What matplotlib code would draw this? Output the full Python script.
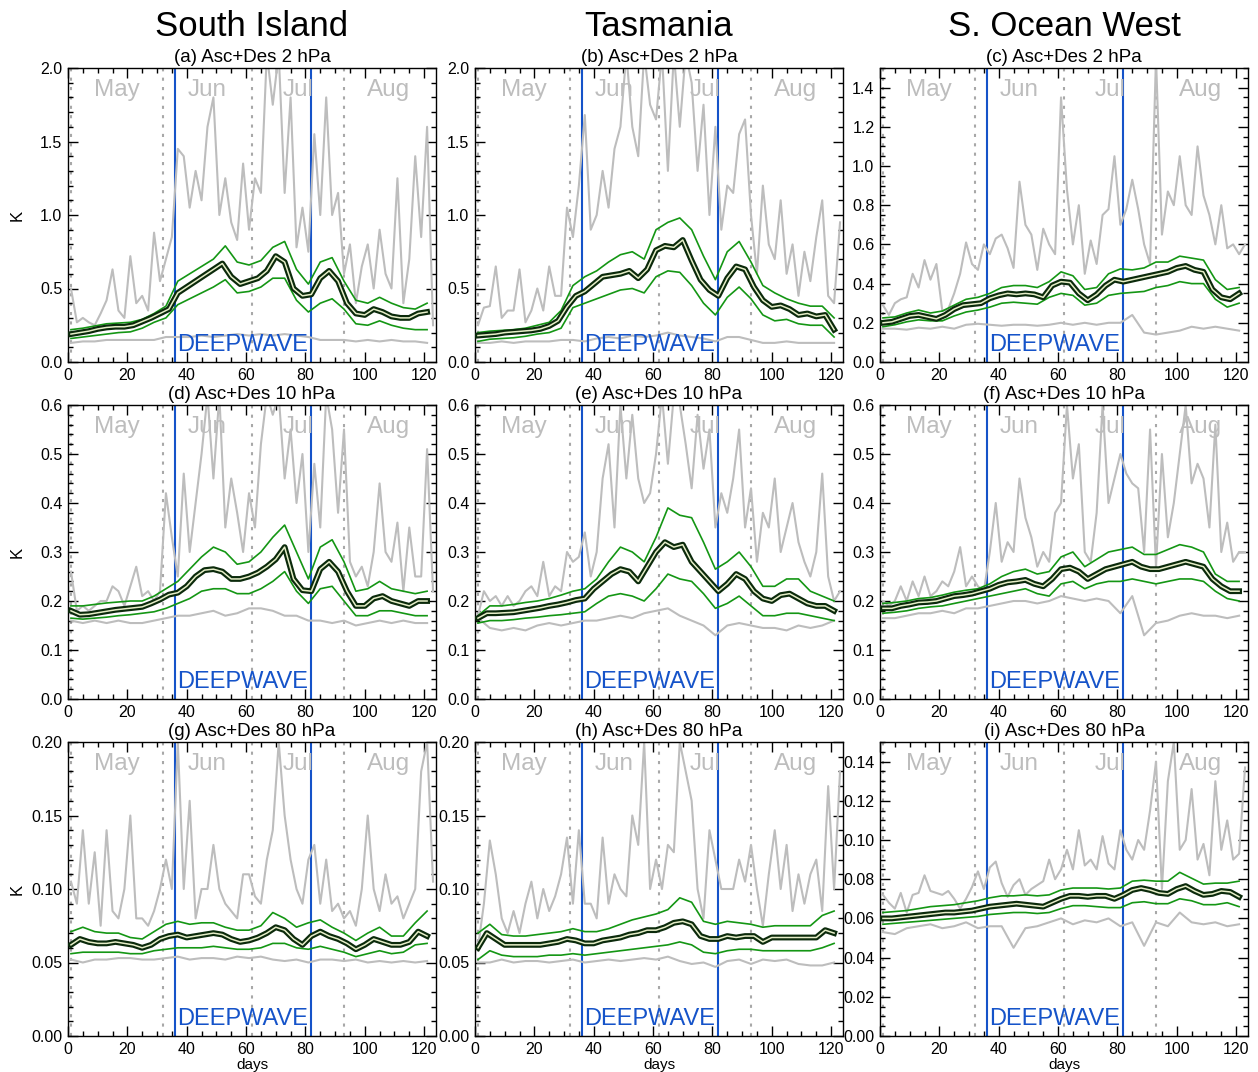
import numpy as np
import matplotlib
matplotlib.use("Agg")
import matplotlib.pyplot as plt
from matplotlib.ticker import MultipleLocator, FormatStrFormatter

plt.rcParams['font.family'] = ['Liberation Sans', 'DejaVu Sans']

# sampling days for each kind of series
days_max = np.arange(1, 124, 2)    # noisy daily maximum (grey)
days_mean = np.arange(1, 122, 3)   # mean (black)
days_band = np.arange(1, 122, 4)   # green spread lines and grey minimum

columns = ["South Island", "Tasmania", "S. Ocean West"]
titles = ["(a) Asc+Des 2 hPa", "(b) Asc+Des 2 hPa", "(c) Asc+Des 2 hPa",
          "(d) Asc+Des 10 hPa", "(e) Asc+Des 10 hPa", "(f) Asc+Des 10 hPa",
          "(g) Asc+Des 80 hPa", "(h) Asc+Des 80 hPa", "(i) Asc+Des 80 hPa"]
months = ["May", "Jun", "Jul", "Aug"]
month_mid = [16.5, 47, 77.5, 108]
month_start = [1, 32, 62, 93]
campaign = [36, 82]

# ---- (a) South Island 2 hPa
a_max = [0.50, 0.27, 0.30, 0.27, 0.25, 0.33, 0.42, 0.63, 0.35, 0.30,
         0.72, 0.40, 0.45, 0.35, 0.88, 0.55, 0.70, 0.85, 1.45, 1.40,
         1.05, 1.30, 1.10, 1.60, 1.80, 1.00, 1.25, 0.95, 0.83, 1.35,
         0.90, 1.25, 1.15, 2.10, 1.75, 2.10, 1.15, 1.80, 0.78, 1.05,
         0.75, 1.55, 1.00, 1.80, 1.00, 1.15, 0.60, 0.80, 0.40, 0.65,
         0.80, 0.50, 0.90, 0.60, 0.50, 1.25, 0.40, 0.70, 1.40, 0.85,
         1.60, 0.25]
a_mean = [0.19, 0.20, 0.21, 0.225, 0.235, 0.24, 0.24, 0.25, 0.275, 0.30,
          0.33, 0.36, 0.47, 0.51, 0.55, 0.59, 0.63, 0.67, 0.58, 0.53,
          0.55, 0.57, 0.62, 0.72, 0.68, 0.50, 0.45, 0.46, 0.57, 0.62,
          0.55, 0.40, 0.33, 0.32, 0.36, 0.34, 0.31, 0.30, 0.30, 0.33, 0.34]
a_hi = [0.22, 0.23, 0.245, 0.26, 0.265, 0.27, 0.29, 0.33, 0.38, 0.55, 0.60,
        0.65, 0.70, 0.79, 0.68, 0.66, 0.69, 0.78, 0.82, 0.63, 0.53, 0.68,
        0.71, 0.55, 0.42, 0.40, 0.44, 0.40, 0.37, 0.36, 0.40]
a_lo = [0.16, 0.17, 0.18, 0.19, 0.20, 0.205, 0.23, 0.27, 0.30, 0.39, 0.43,
        0.47, 0.51, 0.56, 0.47, 0.48, 0.51, 0.57, 0.57, 0.42, 0.34, 0.40,
        0.43, 0.36, 0.26, 0.25, 0.28, 0.25, 0.23, 0.22, 0.22]
a_min = [0.13, 0.14, 0.14, 0.15, 0.15, 0.15, 0.15, 0.15, 0.17, 0.17, 0.17,
         0.18, 0.17, 0.18, 0.19, 0.18, 0.19, 0.18, 0.19, 0.18, 0.17, 0.15,
         0.15, 0.15, 0.14, 0.15, 0.14, 0.15, 0.14, 0.14, 0.13]

# ---- (b) Tasmania 2 hPa
b_max = [0.25, 0.37, 0.38, 0.65, 0.30, 0.35, 0.35, 0.63, 0.27, 0.35,
         0.50, 0.35, 0.65, 0.45, 0.45, 1.05, 0.85, 1.20, 1.68, 0.90,
         1.00, 1.30, 1.05, 1.45, 1.60, 2.10, 1.60, 1.40, 2.10, 1.75,
         1.65, 2.10, 1.30, 2.10, 1.60, 2.10, 1.90, 1.30, 1.75, 1.00,
         1.60, 0.90, 1.20, 1.15, 1.55, 1.65, 1.00, 0.60, 1.20, 0.80,
         0.70, 1.10, 0.60, 0.80, 0.45, 0.75, 0.55, 0.85, 1.10, 0.45,
         0.40, 0.95]
b_mean = [0.18, 0.185, 0.19, 0.20, 0.205, 0.21, 0.215, 0.225, 0.245, 0.28,
          0.375, 0.45, 0.48, 0.53, 0.58, 0.59, 0.60, 0.62, 0.57, 0.63,
          0.76, 0.79, 0.78, 0.83, 0.69, 0.56, 0.49, 0.45, 0.57, 0.65,
          0.63, 0.51, 0.42, 0.375, 0.385, 0.36, 0.32, 0.33, 0.31, 0.32, 0.22]
b_hi = [0.20, 0.21, 0.215, 0.22, 0.23, 0.25, 0.27, 0.35, 0.52, 0.58, 0.62,
        0.68, 0.73, 0.75, 0.70, 0.90, 0.95, 0.98, 0.90, 0.72, 0.56, 0.75,
        0.82, 0.68, 0.52, 0.47, 0.43, 0.40, 0.38, 0.38, 0.30]
b_lo = [0.14, 0.155, 0.16, 0.165, 0.175, 0.19, 0.20, 0.23, 0.37, 0.40, 0.43,
        0.46, 0.49, 0.50, 0.47, 0.58, 0.62, 0.61, 0.52, 0.40, 0.32, 0.44,
        0.51, 0.43, 0.32, 0.28, 0.29, 0.26, 0.25, 0.25, 0.17]
b_min = [0.13, 0.13, 0.14, 0.13, 0.14, 0.14, 0.14, 0.15, 0.15, 0.14, 0.16,
         0.17, 0.16, 0.18, 0.17, 0.18, 0.20, 0.18, 0.17, 0.16, 0.14, 0.17,
         0.17, 0.15, 0.13, 0.13, 0.14, 0.13, 0.13, 0.13, 0.13]

# ---- (c) S. Ocean West 2 hPa
c_max = [0.29, 0.24, 0.30, 0.32, 0.33, 0.45, 0.38, 0.52, 0.42, 0.50,
         0.26, 0.27, 0.35, 0.45, 0.61, 0.50, 0.47, 0.60, 0.55, 0.63,
         0.65, 0.58, 0.48, 0.92, 0.70, 0.65, 0.47, 0.68, 0.60, 0.55,
         1.35, 0.88, 0.60, 0.80, 0.45, 0.62, 0.50, 0.75, 0.78, 1.05,
         0.70, 0.78, 0.93, 0.78, 0.60, 0.50, 1.55, 0.65, 0.87, 0.80,
         1.05, 0.80, 0.75, 1.10, 0.85, 0.75, 0.60, 0.80, 0.58, 0.60,
         0.55, 0.60]
c_mean = [0.20, 0.205, 0.22, 0.235, 0.24, 0.23, 0.22, 0.24, 0.27, 0.29,
          0.295, 0.30, 0.325, 0.34, 0.35, 0.345, 0.35, 0.345, 0.33, 0.39,
          0.41, 0.405, 0.35, 0.315, 0.345, 0.39, 0.42, 0.41, 0.42, 0.43,
          0.44, 0.45, 0.46, 0.48, 0.49, 0.47, 0.46, 0.37, 0.33, 0.32, 0.35]
c_hi = [0.225, 0.23, 0.25, 0.265, 0.25, 0.26, 0.29, 0.32, 0.33, 0.35, 0.38,
        0.39, 0.39, 0.38, 0.41, 0.46, 0.44, 0.37, 0.38, 0.45, 0.475, 0.47,
        0.48, 0.51, 0.51, 0.54, 0.53, 0.52, 0.42, 0.37, 0.38]
c_lo = [0.18, 0.19, 0.205, 0.215, 0.21, 0.21, 0.235, 0.255, 0.265, 0.28,
        0.30, 0.305, 0.30, 0.295, 0.33, 0.35, 0.34, 0.29, 0.30, 0.34, 0.35,
        0.355, 0.36, 0.38, 0.39, 0.41, 0.40, 0.40, 0.32, 0.28, 0.30]
c_min = [0.17, 0.17, 0.165, 0.175, 0.17, 0.18, 0.17, 0.19, 0.195, 0.19,
         0.185, 0.19, 0.19, 0.185, 0.19, 0.20, 0.19, 0.20, 0.19, 0.20, 0.20,
         0.24, 0.15, 0.14, 0.15, 0.16, 0.18, 0.17, 0.18, 0.17, 0.16]

# ---- (d) South Island 10 hPa
d_max = [0.26, 0.18, 0.19, 0.18, 0.19, 0.20, 0.20, 0.23, 0.22, 0.19,
         0.23, 0.27, 0.21, 0.22, 0.20, 0.22, 0.42, 0.33, 0.25, 0.46,
         0.30, 0.40, 0.50, 0.62, 0.45, 0.62, 0.35, 0.45, 0.38, 0.30,
         0.42, 0.35, 0.52, 0.62, 0.58, 0.62, 0.45, 0.55, 0.40, 0.50,
         0.30, 0.48, 0.35, 0.62, 0.55, 0.38, 0.55, 0.28, 0.25, 0.27,
         0.23, 0.30, 0.44, 0.30, 0.28, 0.36, 0.22, 0.35, 0.25, 0.25,
         0.51, 0.22]
d_mean = [0.18, 0.172, 0.173, 0.176, 0.179, 0.182, 0.184, 0.186, 0.188,
          0.195, 0.203, 0.213, 0.217, 0.23, 0.25, 0.263, 0.265, 0.26, 0.245,
          0.245, 0.25, 0.258, 0.27, 0.285, 0.31, 0.245, 0.222, 0.22, 0.265,
          0.28, 0.26, 0.22, 0.19, 0.19, 0.205, 0.21, 0.20, 0.195, 0.19,
          0.20, 0.20]
d_hi = [0.19, 0.19, 0.193, 0.196, 0.198, 0.20, 0.20, 0.21, 0.225, 0.24,
        0.265, 0.29, 0.31, 0.30, 0.275, 0.28, 0.30, 0.33, 0.355, 0.30, 0.245,
        0.31, 0.325, 0.28, 0.22, 0.225, 0.24, 0.225, 0.22, 0.215, 0.22]
d_lo = [0.165, 0.163, 0.165, 0.167, 0.17, 0.172, 0.175, 0.178, 0.185, 0.195,
        0.205, 0.22, 0.225, 0.225, 0.215, 0.215, 0.225, 0.24, 0.26, 0.22,
        0.195, 0.225, 0.23, 0.20, 0.17, 0.17, 0.18, 0.18, 0.175, 0.17, 0.17]
d_min = [0.16, 0.155, 0.16, 0.155, 0.16, 0.155, 0.155, 0.16, 0.165, 0.17,
         0.17, 0.175, 0.18, 0.17, 0.175, 0.185, 0.185, 0.18, 0.17, 0.17,
         0.16, 0.16, 0.155, 0.16, 0.15, 0.155, 0.16, 0.155, 0.16, 0.155, 0.155]

# ---- (e) Tasmania 10 hPa
e_max = [0.17, 0.22, 0.20, 0.21, 0.19, 0.21, 0.19, 0.20, 0.22, 0.23,
         0.21, 0.28, 0.21, 0.23, 0.22, 0.30, 0.28, 0.29, 0.34, 0.25,
         0.30, 0.45, 0.52, 0.35, 0.60, 0.45, 0.58, 0.45, 0.40, 0.42,
         0.50, 0.62, 0.48, 0.62, 0.60, 0.52, 0.43, 0.58, 0.47, 0.55,
         0.35, 0.42, 0.38, 0.45, 0.55, 0.35, 0.43, 0.28, 0.38, 0.35,
         0.45, 0.30, 0.35, 0.40, 0.32, 0.28, 0.25, 0.30, 0.46, 0.25,
         0.20, 0.22]
e_mean = [0.165, 0.175, 0.175, 0.176, 0.177, 0.18, 0.183, 0.186, 0.19,
          0.193, 0.197, 0.202, 0.205, 0.225, 0.24, 0.255, 0.265, 0.26, 0.24,
          0.27, 0.30, 0.32, 0.31, 0.315, 0.28, 0.26, 0.24, 0.22, 0.235,
          0.255, 0.245, 0.22, 0.205, 0.20, 0.212, 0.215, 0.205, 0.195, 0.19,
          0.19, 0.18]
e_hi = [0.17, 0.19, 0.19, 0.193, 0.197, 0.20, 0.205, 0.212, 0.22, 0.225,
        0.245, 0.28, 0.31, 0.30, 0.28, 0.33, 0.39, 0.375, 0.37, 0.32, 0.265,
        0.28, 0.30, 0.27, 0.23, 0.23, 0.245, 0.245, 0.22, 0.21, 0.20]
e_lo = [0.155, 0.16, 0.16, 0.162, 0.165, 0.167, 0.17, 0.172, 0.175, 0.178,
        0.195, 0.21, 0.215, 0.21, 0.20, 0.225, 0.255, 0.245, 0.24, 0.215,
        0.185, 0.195, 0.21, 0.19, 0.17, 0.17, 0.175, 0.175, 0.17, 0.165, 0.16]
e_min = [0.165, 0.145, 0.14, 0.145, 0.14, 0.15, 0.155, 0.15, 0.155, 0.16,
         0.16, 0.165, 0.17, 0.165, 0.175, 0.18, 0.185, 0.17, 0.16, 0.15,
         0.13, 0.15, 0.155, 0.15, 0.145, 0.145, 0.14, 0.15, 0.145, 0.15, 0.16]

# ---- (f) S. Ocean West 10 hPa
f_max = [0.20, 0.19, 0.20, 0.23, 0.20, 0.24, 0.21, 0.25, 0.21, 0.22,
         0.24, 0.23, 0.26, 0.31, 0.23, 0.25, 0.23, 0.22, 0.30, 0.40,
         0.28, 0.32, 0.30, 0.45, 0.37, 0.33, 0.27, 0.30, 0.28, 0.38,
         0.40, 0.60, 0.45, 0.52, 0.30, 0.28, 0.38, 0.60, 0.40, 0.45,
         0.50, 0.46, 0.44, 0.43, 0.30, 0.55, 0.27, 0.50, 0.33, 0.40,
         0.50, 0.60, 0.44, 0.48, 0.45, 0.35, 0.56, 0.30, 0.36, 0.28,
         0.30, 0.30]
f_mean = [0.185, 0.185, 0.19, 0.193, 0.197, 0.198, 0.20, 0.205, 0.21, 0.212,
          0.215, 0.22, 0.225, 0.233, 0.238, 0.24, 0.243, 0.235, 0.23, 0.245,
          0.265, 0.268, 0.26, 0.245, 0.255, 0.265, 0.27, 0.275, 0.28, 0.27,
          0.265, 0.265, 0.27, 0.275, 0.28, 0.275, 0.27, 0.245, 0.23, 0.22,
          0.22]
f_hi = [0.195, 0.197, 0.20, 0.205, 0.207, 0.212, 0.218, 0.222, 0.225, 0.235,
        0.25, 0.26, 0.265, 0.255, 0.26, 0.29, 0.30, 0.27, 0.285, 0.30, 0.305,
        0.31, 0.295, 0.295, 0.305, 0.315, 0.31, 0.30, 0.255, 0.24, 0.24]
f_lo = [0.175, 0.177, 0.18, 0.185, 0.188, 0.19, 0.195, 0.20, 0.205, 0.21,
        0.215, 0.22, 0.225, 0.215, 0.21, 0.235, 0.24, 0.225, 0.235, 0.24,
        0.24, 0.245, 0.24, 0.235, 0.24, 0.245, 0.245, 0.24, 0.22, 0.205, 0.20]
f_min = [0.165, 0.165, 0.17, 0.175, 0.175, 0.18, 0.175, 0.185, 0.185, 0.19,
         0.195, 0.20, 0.20, 0.195, 0.20, 0.21, 0.205, 0.20, 0.205, 0.20,
         0.175, 0.21, 0.13, 0.155, 0.16, 0.17, 0.175, 0.17, 0.17, 0.165, 0.17]

# ---- (g) South Island 80 hPa
g_max = [0.105, 0.09, 0.14, 0.09, 0.125, 0.075, 0.14, 0.085, 0.08, 0.10,
         0.15, 0.08, 0.08, 0.075, 0.085, 0.10, 0.12, 0.10, 0.20, 0.10,
         0.16, 0.08, 0.10, 0.10, 0.13, 0.10, 0.09, 0.085, 0.08, 0.11,
         0.11, 0.095, 0.09, 0.12, 0.14, 0.20, 0.15, 0.12, 0.10, 0.09,
         0.12, 0.13, 0.09, 0.12, 0.085, 0.09, 0.08, 0.085, 0.075, 0.10,
         0.15, 0.10, 0.085, 0.11, 0.09, 0.095, 0.08, 0.09, 0.10, 0.18,
         0.20, 0.105]
g_mean = [0.062, 0.066, 0.064, 0.063, 0.063, 0.064, 0.063, 0.062, 0.060,
          0.062, 0.066, 0.068, 0.069, 0.067, 0.068, 0.069, 0.070, 0.069,
          0.066, 0.064, 0.065, 0.067, 0.070, 0.074, 0.072, 0.066, 0.062,
          0.068, 0.071, 0.068, 0.066, 0.063, 0.059, 0.062, 0.066, 0.064,
          0.062, 0.062, 0.064, 0.071, 0.068]
g_hi = [0.071, 0.074, 0.071, 0.070, 0.070, 0.067, 0.066, 0.071, 0.076, 0.078,
        0.076, 0.077, 0.077, 0.074, 0.072, 0.072, 0.075, 0.084, 0.080, 0.074,
        0.077, 0.079, 0.074, 0.070, 0.065, 0.070, 0.074, 0.068, 0.068, 0.077,
        0.085]
g_lo = [0.056, 0.057, 0.057, 0.057, 0.057, 0.056, 0.056, 0.058, 0.059, 0.060,
        0.060, 0.060, 0.061, 0.060, 0.059, 0.059, 0.060, 0.063, 0.063, 0.060,
        0.059, 0.061, 0.059, 0.057, 0.054, 0.056, 0.058, 0.056, 0.057, 0.062,
        0.063]
g_min = [0.052, 0.050, 0.052, 0.052, 0.053, 0.053, 0.052, 0.052, 0.053,
         0.054, 0.052, 0.053, 0.053, 0.052, 0.054, 0.053, 0.054, 0.052, 0.051,
         0.052, 0.050, 0.052, 0.052, 0.051, 0.052, 0.050, 0.051, 0.050, 0.051,
         0.050, 0.051]

# ---- (h) Tasmania 80 hPa
h_max = [0.06, 0.09, 0.133, 0.11, 0.08, 0.07, 0.085, 0.07, 0.09, 0.105,
         0.08, 0.10, 0.085, 0.095, 0.11, 0.135, 0.09, 0.14, 0.09, 0.09,
         0.08, 0.135, 0.09, 0.11, 0.10, 0.095, 0.15, 0.13, 0.20, 0.10,
         0.12, 0.10, 0.13, 0.125, 0.20, 0.18, 0.16, 0.10, 0.08, 0.14,
         0.12, 0.10, 0.10, 0.10, 0.12, 0.105, 0.13, 0.10, 0.075, 0.11,
         0.14, 0.10, 0.13, 0.085, 0.11, 0.09, 0.11, 0.12, 0.085, 0.17,
         0.10, 0.18]
h_mean = [0.060, 0.070, 0.066, 0.062, 0.062, 0.062, 0.062, 0.062, 0.063,
          0.064, 0.066, 0.065, 0.063, 0.063, 0.065, 0.066, 0.067, 0.069,
          0.070, 0.072, 0.072, 0.074, 0.077, 0.078, 0.076, 0.068, 0.066,
          0.066, 0.068, 0.067, 0.068, 0.068, 0.064, 0.067, 0.067, 0.067,
          0.067, 0.067, 0.067, 0.072, 0.070]
h_hi = [0.070, 0.076, 0.069, 0.068, 0.068, 0.069, 0.070, 0.071, 0.073, 0.071,
        0.071, 0.073, 0.076, 0.079, 0.081, 0.083, 0.086, 0.094, 0.091, 0.078,
        0.076, 0.078, 0.077, 0.076, 0.074, 0.075, 0.075, 0.075, 0.075, 0.082,
        0.085]
h_lo = [0.052, 0.058, 0.055, 0.054, 0.054, 0.054, 0.055, 0.055, 0.056, 0.055,
        0.056, 0.057, 0.058, 0.059, 0.060, 0.061, 0.062, 0.064, 0.062, 0.057,
        0.056, 0.058, 0.059, 0.059, 0.058, 0.058, 0.058, 0.058, 0.058, 0.060,
        0.063]
h_min = [0.050, 0.050, 0.052, 0.050, 0.051, 0.051, 0.050, 0.051, 0.052,
         0.050, 0.051, 0.052, 0.051, 0.052, 0.053, 0.052, 0.054, 0.051, 0.049,
         0.050, 0.047, 0.051, 0.052, 0.049, 0.052, 0.051, 0.052, 0.049, 0.048,
         0.048, 0.050]

# ---- (i) S. Ocean West 80 hPa
i_max = [0.072, 0.068, 0.065, 0.073, 0.063, 0.072, 0.073, 0.082, 0.074,
         0.073, 0.072, 0.074, 0.070, 0.065, 0.070, 0.076, 0.084, 0.075,
         0.086, 0.089, 0.078, 0.071, 0.077, 0.080, 0.072, 0.075, 0.077,
         0.079, 0.090, 0.080, 0.085, 0.095, 0.085, 0.105, 0.087, 0.090,
         0.085, 0.102, 0.088, 0.085, 0.105, 0.095, 0.090, 0.100, 0.095,
         0.115, 0.140, 0.075, 0.130, 0.150, 0.095, 0.100, 0.126, 0.090,
         0.098, 0.082, 0.130, 0.095, 0.110, 0.090, 0.093, 0.137]
i_mean = [0.060, 0.060, 0.0605, 0.061, 0.0615, 0.062, 0.0625, 0.063, 0.063,
          0.0635, 0.064, 0.065, 0.066, 0.0665, 0.067, 0.0675, 0.067, 0.0665,
          0.066, 0.068, 0.070, 0.0715, 0.0715, 0.071, 0.0715, 0.0715, 0.070,
          0.072, 0.0745, 0.0755, 0.0745, 0.073, 0.0725, 0.075, 0.0765, 0.074,
          0.072, 0.0725, 0.074, 0.0735, 0.071]
i_hi = [0.063, 0.0635, 0.064, 0.065, 0.066, 0.0665, 0.067, 0.068, 0.069,
        0.0705, 0.0715, 0.0715, 0.072, 0.0715, 0.072, 0.0745, 0.0755, 0.0755,
        0.0755, 0.075, 0.0755, 0.079, 0.0795, 0.079, 0.079, 0.0835, 0.0805,
        0.0775, 0.078, 0.078, 0.079]
i_lo = [0.057, 0.0575, 0.058, 0.0585, 0.059, 0.0595, 0.060, 0.0605, 0.061,
        0.062, 0.0625, 0.063, 0.063, 0.0625, 0.063, 0.065, 0.0665, 0.0665,
        0.066, 0.0655, 0.0655, 0.068, 0.0685, 0.0675, 0.0675, 0.070, 0.069,
        0.067, 0.067, 0.068, 0.066]
i_min = [0.053, 0.052, 0.055, 0.056, 0.057, 0.055, 0.056, 0.058, 0.055,
         0.056, 0.056, 0.045, 0.055, 0.056, 0.058, 0.060, 0.057, 0.059, 0.058,
         0.060, 0.056, 0.058, 0.046, 0.058, 0.056, 0.063, 0.058, 0.057, 0.058,
         0.056, 0.057]

ylims = [2.0, 2.0, 1.5, 0.6, 0.6, 0.6, 0.2, 0.2, 0.15]
ymajor = [0.5, 0.5, 0.2, 0.1, 0.1, 0.1, 0.05, 0.05, 0.02]
yminor = [0.1, 0.1, 0.05, 0.02, 0.02, 0.02, 0.01, 0.01, 0.005]
yfmt = ['%.1f', '%.1f', '%.1f', '%.1f', '%.1f', '%.1f', '%.2f', '%.2f', '%.2f']

panels = [(a_max, a_mean, a_hi, a_lo, a_min), (b_max, b_mean, b_hi, b_lo, b_min),
          (c_max, c_mean, c_hi, c_lo, c_min), (d_max, d_mean, d_hi, d_lo, d_min),
          (e_max, e_mean, e_hi, e_lo, e_min), (f_max, f_mean, f_hi, f_lo, f_min),
          (g_max, g_mean, g_hi, g_lo, g_min), (h_max, h_mean, h_hi, h_lo, h_min),
          (i_max, i_mean, i_hi, i_lo, i_min)]

GREY = '#bdbdbd'
GREEN = '#149614'
BLUE = '#1553c9'

W, H = 1258, 1072
fig = plt.figure(figsize=(W / 100, H / 100), dpi=100)

col_left = [68, 475, 880]
row_top = [68, 405, 742]
aw, ah = 368, 294

for k in range(9):
    r, c = divmod(k, 3)
    ax = fig.add_axes([col_left[c] / W, 1 - (row_top[r] + ah) / H, aw / W, ah / H])
    vmax, vmean, vhi, vlo, vmin = panels[k]

    for xs in campaign:
        ax.axvline(xs, color=BLUE, lw=1.5, zorder=1)
    for xs in month_start:
        ax.axvline(xs, color='#a8a8a8', lw=1.5, ls=(0, (1.5, 3)), zorder=1)
    for m, xm in zip(months, month_mid):
        ax.text(xm, 0.925, m, transform=ax.get_xaxis_transform(), ha='center',
                va='center', fontsize=17.5, color=GREY, zorder=1)
    ax.text(59, 0.057, 'DEEPWAVE', transform=ax.get_xaxis_transform(),
            ha='center', va='center', fontsize=17, color=BLUE, zorder=5)

    ax.plot(days_max, vmax, color=GREY, lw=1.5, zorder=2)
    ax.plot(days_band, vmin, color=GREY, lw=1.5, zorder=2)
    ax.plot(days_band, vhi, color=GREEN, lw=1.2, zorder=3)
    ax.plot(days_band, vlo, color=GREEN, lw=1.2, zorder=3)
    ax.plot(days_mean, vmean, color='#0b2a0b', lw=4.2, zorder=4)
    ax.plot(days_mean, vmean, color='#e6eec8', lw=1.1, zorder=4)

    ax.set_xlim(0, 124)
    ax.set_ylim(0, ylims[k])
    ax.xaxis.set_major_locator(MultipleLocator(20))
    ax.xaxis.set_minor_locator(MultipleLocator(5))
    ax.yaxis.set_major_locator(MultipleLocator(ymajor[k]))
    ax.yaxis.set_minor_locator(MultipleLocator(yminor[k]))
    ax.yaxis.set_major_formatter(FormatStrFormatter(yfmt[k]))
    ax.tick_params(which='both', direction='in', top=True, right=True,
                   labelsize=11.5, width=1)
    ax.tick_params(which='major', length=7, pad=4)
    ax.tick_params(which='minor', length=3.5)
    for sp in ax.spines.values():
        sp.set_linewidth(1.0)

    ax.set_title(titles[k], fontsize=13.5, pad=4)
    if c == 0:
        ax.set_ylabel('K', fontsize=12)
        ax.yaxis.set_label_coords(-0.118, 0.5)
    if r == 2:
        ax.set_xlabel('days', fontsize=11, labelpad=1)

for c in range(3):
    fig.text((col_left[c] + aw / 2) / W, 1 - 26 / H, columns[c],
             ha='center', va='center', fontsize=25)

fig.savefig('out.png', dpi=100)
